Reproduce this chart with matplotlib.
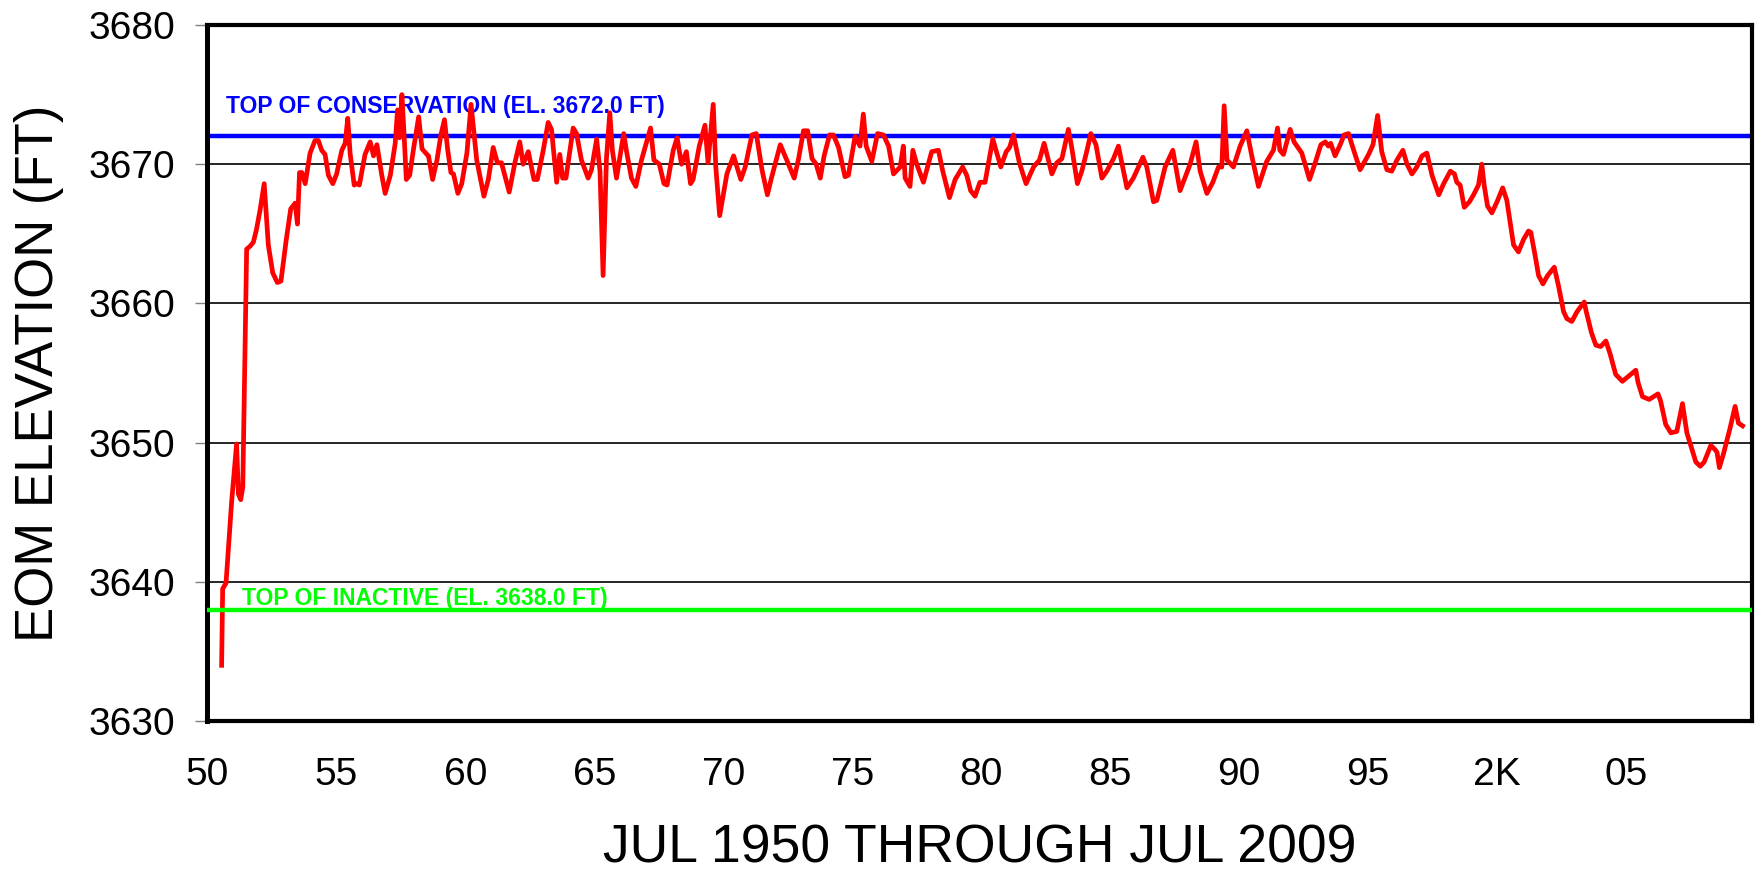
import numpy as np
import matplotlib
matplotlib.use("Agg")
import matplotlib.pyplot as plt

plt.rcParams['font.family'] = ['Liberation Sans', 'DejaVu Sans']

# end-of-month elevation (decimal year, ft)
years = [
    1950.55, 1950.59, 1950.72, 1950.94, 1951.13, 1951.20, 1951.29, 1951.37, 1951.52, 1951.65,
    1951.78, 1951.90, 1952.04, 1952.20, 1952.36, 1952.53, 1952.71, 1952.85, 1953.05, 1953.23,
    1953.40, 1953.49, 1953.57, 1953.66, 1953.79, 1953.98, 1954.17, 1954.30, 1954.43, 1954.56,
    1954.69, 1954.86, 1955.01, 1955.21, 1955.34, 1955.44, 1955.53, 1955.69, 1955.79, 1955.89,
    1956.11, 1956.31, 1956.44, 1956.57, 1956.76, 1956.89, 1957.09, 1957.28, 1957.37, 1957.45,
    1957.54, 1957.63, 1957.71, 1957.84, 1957.99, 1958.19, 1958.32, 1958.51, 1958.57, 1958.73,
    1958.90, 1959.05, 1959.19, 1959.31, 1959.44, 1959.54, 1959.71, 1959.86,
    1960.06, 1960.22, 1960.44, 1960.72, 1960.89, 1961.08, 1961.24, 1961.40, 1961.70, 1961.92,
    1962.11, 1962.24, 1962.44, 1962.66, 1962.79, 1963.02, 1963.21, 1963.34, 1963.54, 1963.66,
    1963.77, 1963.90, 1964.18, 1964.31, 1964.50, 1964.76, 1964.89, 1965.09, 1965.22, 1965.34,
    1965.47, 1965.60, 1965.70, 1965.86, 1966.14, 1966.25, 1966.44, 1966.61, 1966.83, 1967.18,
    1967.31, 1967.52, 1967.70, 1967.82, 1968.06, 1968.21, 1968.38, 1968.57, 1968.73, 1968.83,
    1969.07, 1969.29, 1969.41, 1969.61, 1969.71, 1969.86,
    1970.14, 1970.40, 1970.68, 1970.85, 1971.11, 1971.28, 1971.50, 1971.71, 1971.88, 1972.21,
    1972.46, 1972.75, 1972.92, 1973.11, 1973.27, 1973.44, 1973.60, 1973.76, 1973.91, 1974.12,
    1974.27, 1974.47, 1974.72, 1974.85, 1975.11, 1975.30, 1975.43, 1975.54, 1975.76, 1975.98,
    1976.21, 1976.41, 1976.60, 1976.86, 1976.98, 1977.05, 1977.24, 1977.35, 1977.50, 1977.76,
    1978.08, 1978.34, 1978.51, 1978.77, 1978.99, 1979.28, 1979.44, 1979.59, 1979.76, 1979.95,
    1980.15, 1980.45, 1980.76, 1980.97, 1981.10, 1981.25, 1981.48, 1981.74, 1982.03, 1982.26,
    1982.44, 1982.74, 1982.93, 1983.13, 1983.38, 1983.51, 1983.73, 1983.90, 1984.09, 1984.25,
    1984.45, 1984.68, 1984.87, 1985.13, 1985.32, 1985.65, 1985.90, 1986.27, 1986.42, 1986.68,
    1986.81, 1987.13, 1987.43, 1987.71, 1988.10, 1988.33, 1988.49, 1988.75, 1988.98, 1989.20,
    1989.33, 1989.42, 1989.53, 1989.78,
    1990.04, 1990.30, 1990.49, 1990.75, 1991.07, 1991.33, 1991.49, 1991.58, 1991.72, 1991.98,
    1992.13, 1992.43, 1992.73, 1992.95, 1993.17, 1993.34, 1993.46, 1993.55, 1993.72, 1993.92,
    1994.07, 1994.24, 1994.46, 1994.69, 1995.02, 1995.19, 1995.37, 1995.53, 1995.73, 1995.92,
    1996.12, 1996.35, 1996.51, 1996.70, 1996.89, 1997.09, 1997.28, 1997.48, 1997.74, 1997.93,
    1998.19, 1998.35, 1998.44,
    1998.57, 1998.73, 1998.93, 1999.09, 1999.28, 1999.41, 1999.50, 1999.63, 1999.80, 2000.00,
    2000.22, 2000.38, 2000.51, 2000.64, 2000.83, 2001.03, 2001.22, 2001.31, 2001.48, 2001.61,
    2001.78, 2001.96, 2002.22, 2002.39, 2002.58, 2002.71, 2002.90, 2003.10, 2003.38, 2003.46,
    2003.66, 2003.83, 2004.02, 2004.22, 2004.38, 2004.60, 2004.86, 2005.12, 2005.38, 2005.47,
    2005.64, 2005.90, 2006.24, 2006.34, 2006.54, 2006.74, 2006.97, 2007.19, 2007.36, 2007.51,
    2007.71, 2007.88, 2008.03, 2008.29, 2008.45, 2008.53, 2008.62, 2008.78, 2009.03, 2009.23,
    2009.36, 2009.52,
]
elev = [
    3634.0, 3639.5, 3639.9, 3645.8, 3649.9, 3646.3, 3645.9, 3646.8, 3663.9, 3664.1,
    3664.4, 3665.3, 3666.7, 3668.6, 3664.2, 3662.2, 3661.5, 3661.6, 3664.5, 3666.8,
    3667.2, 3665.7, 3669.4, 3669.4, 3668.6, 3670.8, 3671.7, 3671.7, 3671.0, 3670.7,
    3669.2, 3668.6, 3669.3, 3671.0, 3671.5, 3673.3, 3670.8, 3668.5, 3668.6, 3668.5,
    3670.7, 3671.6, 3670.6, 3671.4, 3669.2, 3667.9, 3669.2, 3671.5, 3673.9, 3671.9,
    3675.0, 3671.9, 3668.9, 3669.2, 3671.1, 3673.4, 3671.1, 3670.7, 3670.6, 3668.9,
    3670.3, 3672.1, 3673.2, 3671.1, 3669.4, 3669.3, 3667.9, 3668.6,
    3670.8, 3674.3, 3670.3, 3667.7, 3668.9, 3671.2, 3670.1, 3670.1, 3668.0, 3670.1,
    3671.6, 3670.0, 3670.9, 3668.9, 3668.9, 3671.0, 3673.0, 3672.5, 3668.7, 3670.7,
    3669.0, 3669.0, 3672.6, 3672.2, 3670.3, 3669.0, 3669.6, 3671.8, 3669.5, 3662.0,
    3670.4, 3673.7, 3671.0, 3669.0, 3672.2, 3670.9, 3669.0, 3668.4, 3670.3, 3672.6,
    3670.3, 3670.0, 3668.6, 3668.5, 3671.0, 3671.9, 3670.0, 3670.9, 3668.6, 3668.9,
    3671.3, 3672.8, 3670.1, 3674.3, 3669.8, 3666.3,
    3669.3, 3670.6, 3668.9, 3669.8, 3672.1, 3672.2, 3669.6, 3667.8, 3669.1, 3671.4,
    3670.3, 3669.0, 3670.4, 3672.4, 3672.4, 3670.4, 3670.0, 3669.0, 3670.6, 3672.1,
    3672.1, 3671.2, 3669.1, 3669.2, 3672.0, 3671.3, 3673.6, 3671.3, 3670.2, 3672.2,
    3672.1, 3671.3, 3669.3, 3669.8, 3671.3, 3669.0, 3668.4, 3671.0, 3670.0, 3668.7,
    3670.9, 3671.0, 3669.5, 3667.6, 3668.9, 3669.8, 3669.2, 3668.1, 3667.7, 3668.7,
    3668.7, 3671.8, 3669.8, 3670.9, 3671.2, 3672.1, 3670.1, 3668.6, 3669.8, 3670.3,
    3671.5, 3669.3, 3670.1, 3670.4, 3672.5, 3671.2, 3668.6, 3669.5, 3670.9, 3672.2,
    3671.4, 3669.0, 3669.5, 3670.4, 3671.3, 3668.3, 3669.0, 3670.5, 3669.8, 3667.3,
    3667.4, 3669.8, 3671.0, 3668.1, 3670.0, 3671.6, 3669.5, 3667.9, 3668.7, 3669.8,
    3669.8, 3674.2, 3670.3, 3669.8,
    3671.3, 3672.4, 3670.6, 3668.4, 3670.2, 3671.0, 3672.6, 3671.0, 3670.7, 3672.5,
    3671.6, 3670.8, 3668.9, 3670.1, 3671.4, 3671.6, 3671.3, 3671.5, 3670.6, 3671.4,
    3672.1, 3672.2, 3670.9, 3669.6, 3670.7, 3671.4, 3673.5, 3670.9, 3669.6, 3669.5,
    3670.3, 3671.0, 3670.0, 3669.3, 3669.8, 3670.6, 3670.8, 3669.2, 3667.8, 3668.6,
    3669.5, 3669.3, 3668.7,
    3668.5, 3666.9, 3667.3, 3667.8, 3668.5, 3670.0, 3668.5, 3667.0, 3666.5, 3667.3,
    3668.3, 3667.4, 3665.8, 3664.2, 3663.7, 3664.6, 3665.2, 3665.1, 3663.4, 3662.0,
    3661.4, 3662.0, 3662.6, 3661.2, 3659.4, 3658.9, 3658.7, 3659.4, 3660.1, 3659.4,
    3657.9, 3657.0, 3656.9, 3657.3, 3656.4, 3654.9, 3654.4, 3654.8, 3655.2, 3654.3,
    3653.3, 3653.1, 3653.5, 3653.0, 3651.3, 3650.7, 3650.8, 3652.8, 3650.7, 3649.8,
    3648.6, 3648.3, 3648.6, 3649.8, 3649.5, 3649.3, 3648.2, 3649.2, 3651.0, 3652.6,
    3651.4, 3651.2,
]

conservation = 3672.0
inactive = 3638.0
xtick_pos = [1950, 1955, 1960, 1965, 1970, 1975, 1980, 1985, 1990, 1995, 2000, 2005]
xtick_lab = ['50', '55', '60', '65', '70', '75', '80', '85', '90', '95', '2K', '05']
ytick_pos = [3630, 3640, 3650, 3660, 3670, 3680]

fig = plt.figure(figsize=(17.58, 8.8), dpi=100)
ax = fig.add_axes([0.118, 0.1807, 0.8788, 0.7909])

for y in ytick_pos[1:-1]:
    ax.axhline(y, color='black', lw=1.2, zorder=1)

ax.axhline(conservation, color='#0000ff', lw=3.2, zorder=2)
ax.plot(years, elev, color='#ff0000', lw=3.4, zorder=3)
ax.axhline(inactive, color='#00ff00', lw=3.2, zorder=4)

ax.text(1950.72, 3673.68, 'TOP OF CONSERVATION (EL. 3672.0 FT)', color='#0000ff',
        fontsize=16.5, fontweight='bold', va='baseline', zorder=2)
ax.text(1951.34, 3638.3, 'TOP OF INACTIVE (EL. 3638.0 FT)', color='#00ff00',
        fontsize=16.5, fontweight='bold', va='baseline', zorder=3)

ax.set_xlim(1950, 2009.9)
ax.set_ylim(3630, 3680)
ax.set_xticks(xtick_pos)
ax.set_xticklabels(xtick_lab)
ax.set_yticks(ytick_pos)
ax.tick_params(axis='x', length=0, pad=26, labelsize=28)
ax.tick_params(axis='y', length=9, width=1, color='gray', pad=14, labelsize=28)

for side in ['top', 'right', 'bottom']:
    ax.spines[side].set_linewidth(3.0)
ax.spines['left'].set_linewidth(3.6)

ax.set_xlabel('JUL 1950 THROUGH JUL 2009', fontsize=38.5, labelpad=22)
ax.set_ylabel('EOM ELEVATION (FT)', fontsize=38, labelpad=18)

fig.savefig('out.png', dpi=100)
